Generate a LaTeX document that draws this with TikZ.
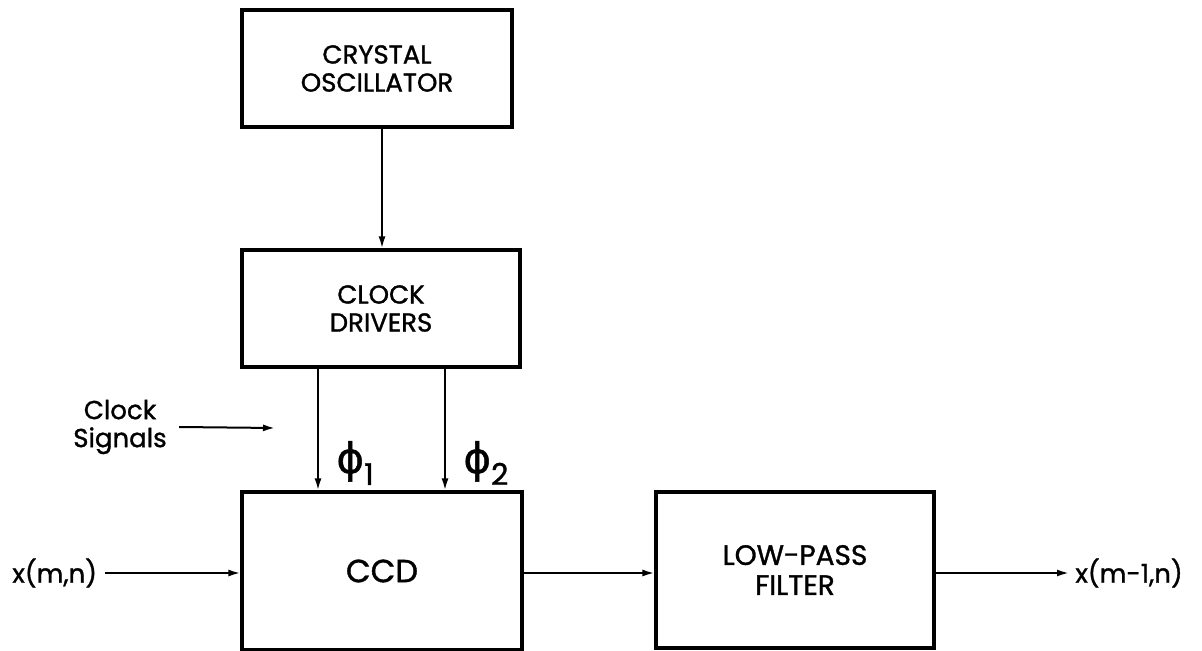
\documentclass[tikz,border=0pt]{standalone}
\usepackage{fontspec}
\setmainfont{Poppins}[FakeBold=1.2]
\newfontfamily\phifont{DejaVu Sans}[FakeBold=1]
\usetikzlibrary{arrows.meta}

\begin{document}
\begin{tikzpicture}[x=0.5pt,y=-0.5pt,
  block/.style={draw,line width=1.6pt,align=center,inner sep=0pt,
    font=\fontsize{13}{14}\selectfont},
  sig/.style={-{Latex[length=6pt,width=3.5pt]},line width=1pt},
  lbl/.style={font=\fontsize{13}{14}\selectfont,inner sep=0pt},
  phase/.style={font=\fontsize{15}{15}\selectfont,inner sep=0pt,anchor=west}]
  \useasboundingbox (0,0) rectangle (1202,651);
  % Blocks
  \node[block,minimum width=135pt,minimum height=58.5pt] (xtal) at (377,68.5) {CRYSTAL\\OSCILLATOR};
  \node[block,minimum width=139pt,minimum height=58.5pt] (drv) at (381,308.5) {CLOCK\\DRIVERS};
  \node[block,minimum width=140pt,minimum height=79pt,font=\fontsize{16}{17}\selectfont] (ccd) at (382,571) {CCD};
  \node[block,minimum width=139pt,minimum height=78pt,font=\fontsize{14}{15}\selectfont] (lpf) at (795,570) {LOW-PASS\\FILTER};
  % Oscillator to drivers
  \draw[sig] (xtal.south -| 382,0) -- (drv.north -| 382,0);
  % Clock phases
  \coordinate (p1) at (318,0);
  \coordinate (p2) at (445,0);
  \draw[sig] (drv.south -| p1) -- (ccd.north -| p1);
  \draw[sig] (drv.south -| p2) -- (ccd.north -| p2);
  \node[phase] (phi1) at (336,463) {{\phifont\fontsize{21}{21}\selectfont ϕ}\raisebox{-6pt}{1}};
  \node[phase] (phi2) at (463,463) {{\phifont\fontsize{21}{21}\selectfont ϕ}\raisebox{-6pt}{2}};
  % Clock signals label
  \node[lbl,align=center] (clksig) at (120,427) {Clock\\Signals};
  \coordinate (clkend) at (275,428);
  \draw[sig] ([xshift=6pt]clksig.east) -- (clkend);
  % Signal path
  \node[lbl,anchor=west] (xin) at (12,573) {x(m,n)};
  \node[lbl,anchor=west] (xout) at (1075,573) {x(m-1,n)};
  \draw[sig] ([xshift=4pt]xin.east) -- (ccd.west |- xin.east);
  \draw[sig] (ccd.east |- 0,573) -- (lpf.west |- 0,573);
  \draw[sig] (lpf.east |- 0,573) -- ([xshift=-3pt]xout.west);
\end{tikzpicture}
\end{document}
